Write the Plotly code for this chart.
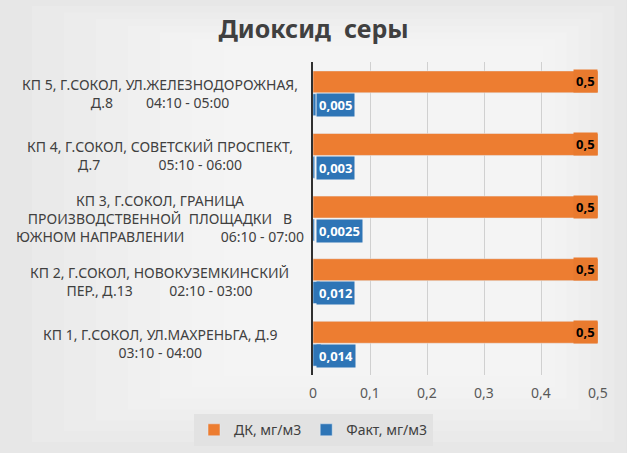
import plotly.graph_objects as go

NBSP = "\u00a0"

# category labels (bottom to top)
categories = ["КП 1", "КП 2", "КП 3", "КП 4", "КП 5"]
category_labels = [
    "КП 1, Г.СОКОЛ, УЛ.МАХРЕНЬГА, Д.9<br>03:10 - 04:00",
    "КП 2, Г.СОКОЛ, НОВОКУЗЕМКИНСКИЙ<br>ПЕР., Д.13" + NBSP * 10 + "02:10 - 03:00",
    "КП 3, Г.СОКОЛ, ГРАНИЦА<br>ПРОИЗВОДСТВЕННОЙ" + NBSP * 2 + "ПЛОЩАДКИ" + NBSP * 3 + "В<br>ЮЖНОМ НАПРАВЛЕНИИ" + NBSP * 10 + "06:10 - 07:00",
    "КП 4, Г.СОКОЛ, СОВЕТСКИЙ ПРОСПЕКТ,<br>Д.7" + NBSP * 16 + "05:10 - 06:00",
    "КП 5, Г.СОКОЛ, УЛ.ЖЕЛЕЗНОДОРОЖНАЯ,<br>Д.8" + NBSP * 9 + "04:10 - 05:00",
]
dk_values = [0.5, 0.5, 0.5, 0.5, 0.5]
dk_text = ["0,5", "0,5", "0,5", "0,5", "0,5"]
fact_values = [0.014, 0.012, 0.0025, 0.003, 0.005]
fact_text = ["0,014", "0,012", "0,0025", "0,003", "0,005"]

orange = "#ED7D31"
blue = "#2E75B6"
text_grey = "#404040"

fig = go.Figure()
fig.add_trace(go.Bar(
    name="Факт, мг/м3", y=categories, x=fact_values, orientation="h",
    marker=dict(color=blue), legendrank=2, hoverinfo="x",
))
fig.add_trace(go.Bar(
    name="ДК, мг/м3", y=categories, x=dk_values, orientation="h",
    marker=dict(color=orange), legendrank=1, hoverinfo="x",
))

annotations = []
for cat, lab in zip(categories, category_labels):
    annotations.append(dict(
        x=-0.537, xref="paper", y=cat, yref="y", text=lab,
        showarrow=False, xanchor="center", yanchor="middle", align="center",
        font=dict(size=14, color=text_grey, family="Noto Sans"),
    ))
# data labels: Факт at the start of the bar, ДК at its end
for cat, val in zip(categories, fact_text):
    annotations.append(dict(
        x=0, xref="x", y=cat, yref="y", text="<b>" + val + "</b>",
        showarrow=False, xanchor="left", yanchor="middle", xshift=3, yshift=-12,
        bgcolor=blue, borderpad=2,
        font=dict(size=13, color="white", family="Noto Sans"),
    ))
for cat, v, val in zip(categories, dk_values, dk_text):
    annotations.append(dict(
        x=v, xref="x", y=cat, yref="y", text="<b>" + val + "</b>",
        showarrow=False, xanchor="right", yanchor="middle", yshift=12,
        bgcolor="#E97A2E", borderpad=2,
        font=dict(size=13, color="black", family="Noto Sans"),
    ))

# soft radial-ish background
shapes = []
for i in range(8):
    m = i * 0.035
    shapes.append(dict(
        type="rect", xref="paper", yref="paper", layer="below",
        x0=-1.098 + m * 3.2, x1=1.1 - m * 1.2, y0=-0.25 + m, y1=1.2 - m * 0.6,
        fillcolor="white", opacity=0.13, line=dict(width=0),
    ))

fig.update_layout(
    width=627, height=453,
    margin=dict(l=313, r=29, t=62, b=78),
    paper_bgcolor="#E4E4E4", plot_bgcolor="rgba(0,0,0,0)",
    separators=", ",
    barmode="group", bargap=0.27, bargroupgap=0.04,
    title=dict(text="<b>Диоксид" + NBSP * 2 + "серы</b>", x=0.5, xref="container",
               y=0.935, yanchor="middle",
               font=dict(size=25, color=text_grey, family="Noto Sans")),
    xaxis=dict(range=[0, 0.5], dtick=0.1, tickformat=",.1~f",
               showgrid=True, gridcolor="#D0D0D0", gridwidth=1,
               zeroline=False, showline=False,
               tickfont=dict(size=14, color="#595959", family="Noto Sans"),
               ticks="", ticklabelstandoff=8),
    yaxis=dict(showticklabels=False, showline=True, linecolor="#303030", linewidth=2,
               showgrid=False, categoryorder="array", categoryarray=categories),
    legend=dict(orientation="h", x=0.5, xref="container", xanchor="center",
                y=0.015, yref="container", yanchor="bottom",
                bgcolor="#E2E2E2", font=dict(size=14, color=text_grey, family="Noto Sans"),
                itemwidth=30),
    annotations=annotations, shapes=shapes,
    showlegend=True,
)

fig.write_html("out.html", config={"displayModeBar": False},
               post_script="document.body.style.margin='0';")
